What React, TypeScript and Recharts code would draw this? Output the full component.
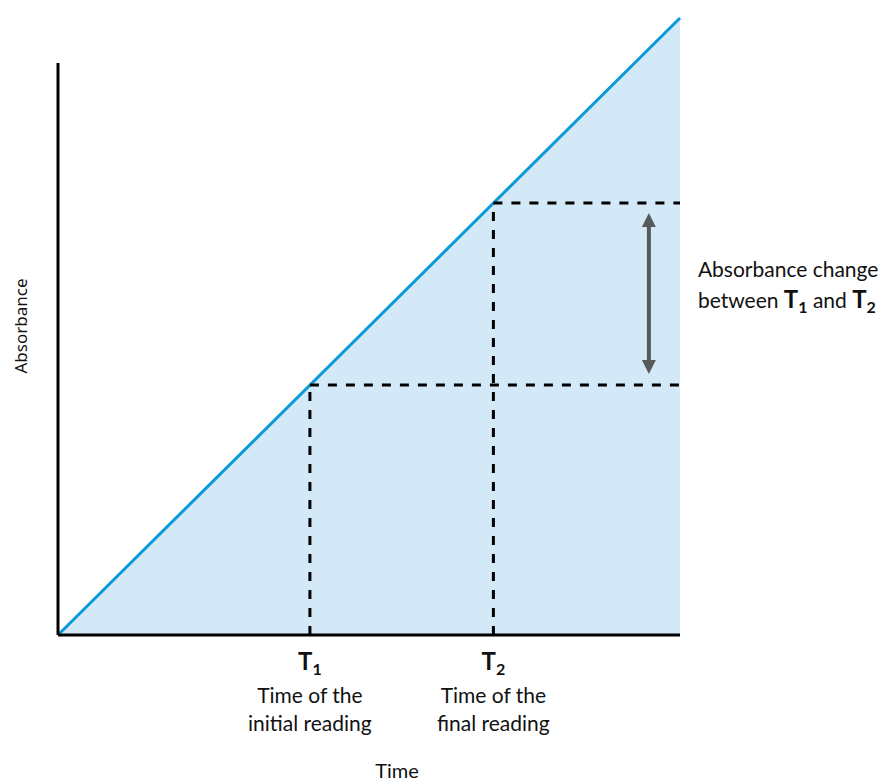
import React from "react";
import { ComposedChart, Area, XAxis, YAxis, ReferenceLine } from "recharts";

// Absorbance rises linearly with time (arbitrary units 0-100)
const TIME = [0, 100];
const ABSORBANCE = [0, 100];

// the two readings
const READING_TIMES = [40.5, 70];
const READING_LEVELS = [40.5, 70];
const READING_SUBS = ["1", "2"];
const READING_CAPTIONS = [
  ["Time of the", "initial reading"],
  ["Time of the", "final reading"],
];

const Y_AXIS_TOP = 92.7;
const ARROW_X = 95;
const ARROW_RANGE = [42.3, 68.4];

const FONT = "Lato, 'Noto Sans', sans-serif";
const LINE_BLUE = "#0b9ad8";
const FILL_BLUE = "#d4e9f7";
const ARROW_GREY = "#58595b";

const data = TIME.map((t, i) => ({ t, a: ABSORBANCE[i] }));

const ReadingTick = (props: any) => {
  const { x, y, payload } = props;
  const i = READING_TIMES.indexOf(payload.value);
  if (i < 0) return null;
  return (
    <g fontFamily={FONT} fill="#111">
      <text x={x} y={y + 27} textAnchor="middle" fontSize={24} fontWeight={700}>
        T<tspan fontSize={16} dy={5}>{READING_SUBS[i]}</tspan>
      </text>
      {READING_CAPTIONS[i].map((line, k) => (
        <text key={k} x={x} y={y + 60 + k * 28} textAnchor="middle" fontSize={21}>
          {line}
        </text>
      ))}
    </g>
  );
};

const ChangeArrow = (props: any) => {
  const { x1, y1, x2, y2 } = props;
  const top = Math.min(y1, y2);
  const bottom = Math.max(y1, y2);
  const head = 14;
  return (
    <g>
      <line x1={x1} x2={x2} y1={top + head - 2} y2={bottom - head + 2} stroke={ARROW_GREY} strokeWidth={4} />
      <polygon points={`${x1},${top} ${x1 - 7},${top + head} ${x1 + 7},${top + head}`} fill={ARROW_GREY} />
      <polygon points={`${x1},${bottom} ${x1 - 7},${bottom - head} ${x1 + 7},${bottom - head}`} fill={ARROW_GREY} />
      <g fontFamily={FONT} fontSize={21} fill="#111">
        <text x={x1 + 49} y={277}>Absorbance change</text>
        <text x={x1 + 49} y={308}>
          between{" "}
          <tspan fontWeight={700} fontSize={24}>T</tspan>
          <tspan fontWeight={700} fontSize={16} dy={5}>1</tspan>
          <tspan dy={-5}> and </tspan>
          <tspan fontWeight={700} fontSize={24}>T</tspan>
          <tspan fontWeight={700} fontSize={16} dy={5}>2</tspan>
        </text>
      </g>
    </g>
  );
};

export default function App() {
  return (
    <div style={{ position: "absolute", left: 0, top: 0, background: "#fff" }}>
      <ComposedChart
        width={882}
        height={781}
        data={data}
        margin={{ top: 18, right: 202, bottom: 0, left: 0 }}
      >
        <XAxis
          dataKey="t"
          type="number"
          domain={[0, 100]}
          ticks={READING_TIMES}
          tickLine={false}
          axisLine={{ stroke: "#000", strokeWidth: 3 }}
          tick={<ReadingTick />}
          height={146}
          interval={0}
          label={{
            content: (p: any) => (
              <text
                x={p.viewBox.x + 339}
                y={778}
                textAnchor="middle"
                fontFamily={FONT}
                fontSize={20}
                fill="#111"
              >
                Time
              </text>
            ),
          }}
        />
        <YAxis
          type="number"
          domain={[0, 100]}
          width={58}
          tick={false}
          tickLine={false}
          axisLine={false}
          label={{
            content: (p: any) => (
              <text
                x={27}
                y={326}
                transform="rotate(-90 27 326)"
                textAnchor="middle"
                fontFamily="'Noto Sans', sans-serif"
                fontSize={17}
                fill="#111"
              >
                Absorbance
              </text>
            ),
          }}
        />
        <Area
          type="linear"
          dataKey="a"
          stroke={LINE_BLUE}
          strokeWidth={3}
          fill={FILL_BLUE}
          fillOpacity={1}
          isAnimationActive={false}
          dot={false}
          activeDot={false}
        />
        {/* y axis line */}
        <ReferenceLine
          segment={[
            { x: 0, y: 0 },
            { x: 0, y: Y_AXIS_TOP },
          ]}
          stroke="#000"
          strokeWidth={3}
        />
        {READING_TIMES.map((t, i) => (
          <ReferenceLine
            key={`v${i}`}
            segment={[
              { x: t, y: 0 },
              { x: t, y: READING_LEVELS[i] },
            ]}
            stroke="#000"
            strokeWidth={3}
            strokeDasharray="9 9"
          />
        ))}
        {READING_TIMES.map((t, i) => (
          <ReferenceLine
            key={`h${i}`}
            segment={[
              { x: t, y: READING_LEVELS[i] },
              { x: 100, y: READING_LEVELS[i] },
            ]}
            stroke="#000"
            strokeWidth={3}
            strokeDasharray="9 9"
          />
        ))}
        <ReferenceLine
          segment={[
            { x: ARROW_X, y: ARROW_RANGE[0] },
            { x: ARROW_X, y: ARROW_RANGE[1] },
          ]}
          shape={<ChangeArrow />}
        />
      </ComposedChart>
    </div>
  );
}
